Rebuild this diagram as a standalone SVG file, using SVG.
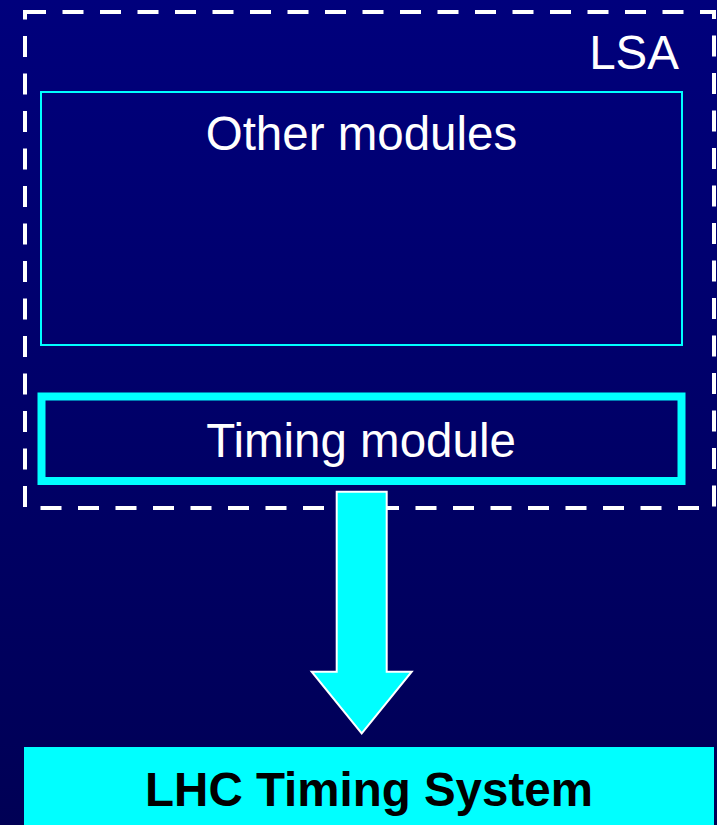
<svg xmlns="http://www.w3.org/2000/svg" width="717" height="825" viewBox="0 0 717 825">
<defs>
<linearGradient id="bg" x1="0" y1="0" x2="0" y2="1">
<stop offset="0" stop-color="#00007C"/>
<stop offset="1" stop-color="#000055"/>
</linearGradient>
<style>
.lbl{font-family:"Liberation Sans",Arial,sans-serif;fill:#FFFFFF;font-size:47.5px}
.dash{fill:none;stroke:#FFFFFF;stroke-width:4;stroke-dasharray:21 16.5}
.box{fill:none;stroke:#00FFFF}
</style>
</defs>
<rect x="0" y="0" width="717" height="825" fill="url(#bg)"/>
<g id="lsa">
<rect class="dash" x="25" y="12" width="689" height="496"/>
<text class="lbl" x="679" y="69" text-anchor="end">LSA</text>
</g>
<g id="other-modules">
<rect class="box" x="41" y="92" width="641" height="253" stroke-width="2"/>
<text class="lbl" x="361.5" y="150" text-anchor="middle">Other modules</text>
</g>
<g id="timing-module">
<rect class="box" x="41.5" y="396.5" width="640" height="84.5" stroke-width="8"/>
<text class="lbl" x="361" y="457" text-anchor="middle">Timing module</text>
</g>
<g id="connectors">
<polygon points="336.7,491.7 386.7,491.7 386.7,671.7 411.7,671.7 361.7,733.3 311.7,671.7 336.7,671.7" fill="#00FFFF" stroke="#FFFFFF" stroke-width="2"/>
</g>
<g id="lhc-timing-system">
<rect x="24" y="747" width="690" height="78" fill="#00FFFF"/>
<text x="369" y="806" text-anchor="middle" font-family="'Liberation Sans',Arial,sans-serif" font-weight="bold" font-size="47.5" fill="#000000">LHC Timing System</text>
</g>
</svg>
